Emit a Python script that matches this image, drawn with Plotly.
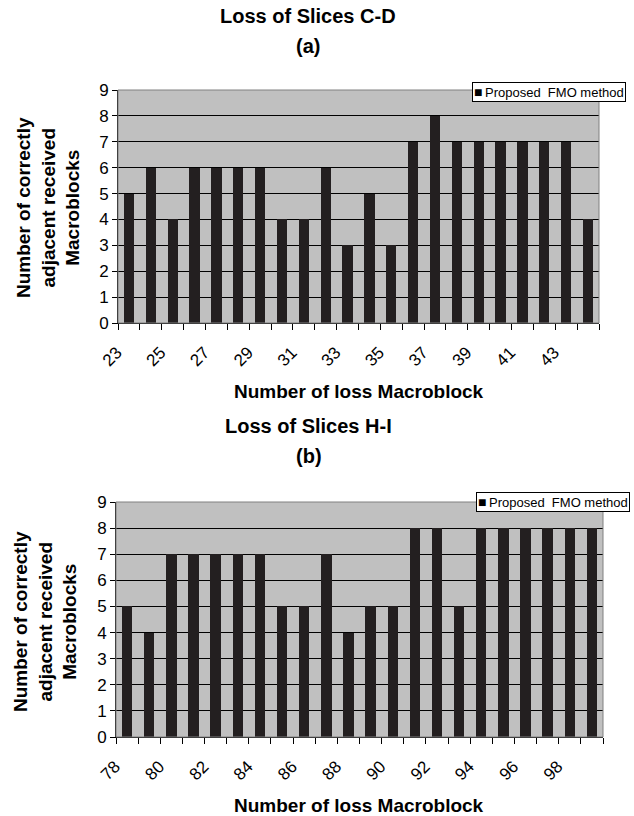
import plotly.graph_objects as go

# ---- data ----
cats_a = [23, 24, 25, 26, 27, 28, 29, 30, 31, 32, 33, 34, 35, 36, 37, 38, 39, 40, 41, 42, 43, 44]
vals_a = [5, 6, 4, 6, 6, 6, 6, 4, 4, 6, 3, 5, 3, 7, 8, 7, 7, 7, 7, 7, 7, 4]
ticks_a = [23, 25, 27, 29, 31, 33, 35, 37, 39, 41, 43]

cats_b = [78, 79, 80, 81, 82, 83, 84, 85, 86, 87, 88, 89, 90, 91, 92, 93, 94, 95, 96, 97, 98, 99]
vals_b = [5, 4, 7, 7, 7, 7, 7, 5, 5, 7, 4, 5, 5, 8, 8, 5, 8, 8, 8, 8, 8, 8]
ticks_b = [78, 80, 82, 84, 86, 88, 90, 92, 94, 96, 98]

yticks = [0, 1, 2, 3, 4, 5, 6, 7, 8, 9]

series_name = "Proposed\u00a0 FMO method"
title_a = "Loss of Slices C-D"
sub_a = "(a)"
title_b = "Loss of Slices H-I"
sub_b = "(b)"
xlab = "Number of loss Macroblock"
ylab = "Number of correctly<br>adjacent received<br>Macroblocks"

W, H = 634, 816
FONT = "Liberation Sans, Arial, sans-serif"
BAR = "#231f20"
BG = "#c0c0c0"


def px(x):
    return x / W


def py(y):
    return 1 - y / H


fig = go.Figure()
fig.add_trace(go.Bar(x=cats_a, y=vals_a, width=0.47, marker=dict(color=BAR, line=dict(width=0)),
                     name=series_name, xaxis="x", yaxis="y", showlegend=False))
fig.add_trace(go.Bar(x=cats_b, y=vals_b, width=0.47, marker=dict(color=BAR, line=dict(width=0)),
                     name=series_name, xaxis="x2", yaxis="y2", showlegend=False))


def xaxis_cfg(cats, ticks, dom):
    return dict(
        domain=dom, range=[cats[0] - 0.5, cats[-1] + 0.5], automargin=False,
        tickmode="array", tickvals=ticks, ticktext=[str(t) for t in ticks],
        tickangle=-45, ticks="", showgrid=False, zeroline=False,
        showline=True, linecolor="black", linewidth=1,
        ticklabelshift=-12, ticklabelstandoff=12,
        tickfont=dict(family=FONT, size=17, color="black"),
        minor=dict(tickmode="array", tickvals=[c - 0.5 for c in cats] + [cats[-1] + 0.5],
                   ticks="outside", ticklen=6, tickcolor="black", tickwidth=1, showgrid=False),
    )


def yaxis_cfg(dom, anchor):
    return dict(
        domain=dom, range=[0, 9], tickmode="array", tickvals=yticks, automargin=False,
        ticks="outside", ticklen=5, tickcolor="black",
        showgrid=True, gridcolor="black", gridwidth=1, zeroline=False,
        showline=True, linecolor="black", linewidth=1, anchor=anchor,
        tickfont=dict(family=FONT, size=17, color="black"),
    )


fig.update_layout(
    width=W, height=H, margin=dict(l=0, r=0, t=0, b=0, autoexpand=False),
    paper_bgcolor="white", plot_bgcolor=BG,
    bargap=0, showlegend=False,
    xaxis=dict(**xaxis_cfg(cats_a, ticks_a, [px(118), px(599)]), anchor="y"),
    yaxis=yaxis_cfg([py(323), py(90)], "x"),
    xaxis2=dict(**xaxis_cfg(cats_b, ticks_b, [px(116), px(603)]), anchor="y2"),
    yaxis2=yaxis_cfg([py(737), py(502)], "x2"),
)

# gray plot-area border (top/right)
for xr, yr in (("x domain", "y domain"), ("x2 domain", "y2 domain")):
    fig.add_shape(type="rect", xref=xr, yref=yr, x0=0, x1=1, y0=0, y1=1,
                  line=dict(color="#808080", width=1), layer="above")

# legends (Excel-style boxed key)
legend_text = "<span style='font-size:14px'>\u25A0</span><span style='font-size:9px'>\u00a0</span>" + series_name
for x_right, y_top in ((626, 82), (630, 492)):
    fig.add_annotation(text=legend_text, x=px(x_right), y=py(y_top), xref="paper", yref="paper",
                       xanchor="right", yanchor="top", showarrow=False, align="left",
                       bgcolor="white", bordercolor="black", borderwidth=1, borderpad=1,
                       font=dict(family=FONT, size=13, color="black"))

ann = [
    (title_a, 308, 16, 20, 0),
    (sub_a, 308, 46, 20, 0),
    (title_b, 308, 426, 20, 0),
    (sub_b, 309, 456, 20, 0),
    (xlab, 359, 391, 19, 0),
    (xlab, 359, 805, 19, 0),
    (ylab, 48, 208, 19, -90),
    (ylab, 45, 622, 19, -90),
]
for text, x, y, size, ang in ann:
    fig.add_annotation(text="<b>" + text + "</b>", x=px(x), y=py(y), xref="paper", yref="paper",
                       xanchor="center", yanchor="middle", showarrow=False, textangle=ang,
                       font=dict(family=FONT, size=size, color="black"))

fig.write_html("out.html")
